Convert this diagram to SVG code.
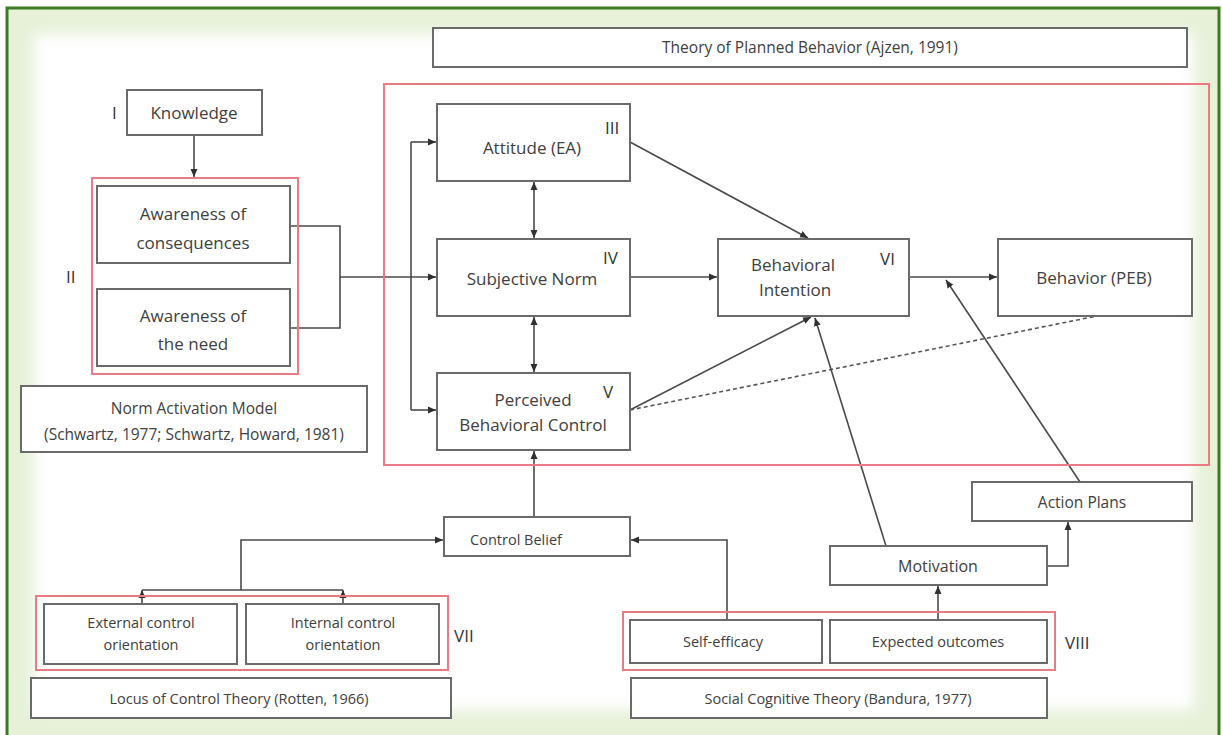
<svg xmlns="http://www.w3.org/2000/svg" width="1223" height="735" viewBox="0 0 1223 735">
<defs>
<filter id="soft" x="-5%" y="-5%" width="110%" height="110%"><feGaussianBlur stdDeviation="7"/></filter>
<marker id="ah" markerUnits="userSpaceOnUse" markerWidth="9" markerHeight="8" refX="8" refY="4" orient="auto-start-reverse" viewBox="0 0 9 8"><path d="M0,0.5 L8,4 L0,7.5 z" fill="#303030"/></marker>
<style>
.box{fill:#fff;stroke:#6a6a6a;stroke-width:2}
.grp{fill:none;stroke:#ec7a85;stroke-width:2}
.t{font-family:"Open Sans","Liberation Sans",sans-serif;fill:#404040;text-anchor:middle}
.l17{font-size:17px}
.l16{font-size:16px}
.l15{font-size:15.5px}
.l14{font-size:14.5px}
.rn{font-family:"Open Sans","Liberation Sans",sans-serif;fill:#333;font-size:17px}
.c{fill:none;stroke:#4a4a4a;stroke-width:1.6}
.ca{fill:none;stroke:#4a4a4a;stroke-width:1.6;marker-end:url(#ah)}
</style>
</defs>
<g id="background">
<rect x="7" y="8" width="1212" height="740" fill="#e6f1d8" stroke="#3d7a22" stroke-width="3"/>
<rect x="34" y="34" width="1160" height="676" fill="#ffffff" filter="url(#soft)"/>
</g>
<g id="connectors">
<path class="ca" d="M194,135 V177"/>
<path class="c" d="M290,226 H340 V328 H290"/>
<path class="ca" d="M340,277 H436"/>
<path class="c" d="M411,142 V410"/>
<path class="ca" d="M411,142 H436"/>
<path class="ca" d="M411,410 H436"/>
<path class="ca" d="M534,182 V238" style="marker-start:url(#ah)"/>
<path class="ca" d="M534,317 V372" style="marker-start:url(#ah)"/>
<path class="ca" d="M630,142 L808,238"/>
<path class="ca" d="M630,277 H717"/>
<path class="ca" d="M630,410 L811,317"/>
<path d="M630,410 L1097,316" fill="none" stroke="#555" stroke-width="1.6" stroke-dasharray="4,3"/>
<path class="ca" d="M909,277 H997"/>
<path class="ca" d="M1080,482 L946,280"/>
<path class="ca" d="M886,546 L815,318"/>
<path class="ca" d="M1047,566 H1068 V522"/>
<path class="ca" d="M938,620 V586"/>
<path class="ca" d="M727,620 V540 H631"/>
<path class="ca" d="M534,517 V451"/>
<path class="c" d="M142,590 H343"/>
<path class="ca" d="M142,604 V590"/>
<path class="ca" d="M343,604 V590"/>
<path class="ca" d="M241,590 V540 H443"/>
</g>
<g id="tpb-title"><rect class="box" x="433" y="28" width="754" height="39"/><text class="t l15" x="810" y="53">Theory of Planned Behavior (Ajzen, 1991)</text></g>
<g id="tpb-group"><rect class="grp" x="384" y="84" width="825" height="381"/></g>
<g id="knowledge"><rect class="box" x="127" y="90" width="135" height="45"/><text class="t l17" x="194" y="119">Knowledge</text><text class="rn" x="112" y="119">I</text></g>
<g id="nam-group"><rect class="grp" x="92" y="178" width="206" height="196"/><text class="rn" x="66" y="283">II</text></g>
<g id="aware-conseq"><rect class="box" x="97" y="186" width="193" height="77"/><text class="t l17" x="193" y="220">Awareness of</text><text class="t l17" x="193" y="249">consequences</text></g>
<g id="aware-need"><rect class="box" x="97" y="289" width="193" height="77"/><text class="t l17" x="193" y="322">Awareness of</text><text class="t l17" x="193" y="350">the need</text></g>
<g id="nam-title"><rect class="box" x="21" y="386" width="346" height="66"/><text class="t l15" x="194" y="414">Norm Activation Model</text><text class="t l15" x="194" y="440">(Schwartz, 1977; Schwartz, Howard, 1981)</text></g>
<g id="attitude"><rect class="box" x="437" y="104" width="193" height="77"/><text class="t l17" x="532" y="154">Attitude (EA)</text><text class="rn" x="605" y="134">III</text></g>
<g id="subjective-norm"><rect class="box" x="437" y="239" width="193" height="77"/><text class="t l17" x="532" y="285">Subjective Norm</text><text class="rn" x="603" y="264">IV</text></g>
<g id="pbc"><rect class="box" x="437" y="373" width="193" height="77"/><text class="t l17" x="533" y="406">Perceived</text><text class="t l17" x="533" y="431">Behavioral Control</text><text class="rn" x="603" y="398">V</text></g>
<g id="intention"><rect class="box" x="718" y="239" width="191" height="77"/><text class="t l17" x="793" y="271">Behavioral</text><text class="t l17" x="795" y="296">Intention</text><text class="rn" x="880" y="265">VI</text></g>
<g id="behavior"><rect class="box" x="998" y="239" width="194" height="77"/><text class="t l17" x="1094" y="284">Behavior (PEB)</text></g>
<g id="action-plans"><rect class="box" x="972" y="482" width="220" height="39"/><text class="t l15" x="1082" y="508">Action Plans</text></g>
<g id="motivation"><rect class="box" x="830" y="546" width="217" height="39"/><text class="t l16" x="938" y="572">Motivation</text></g>
<g id="control-belief"><rect class="box" x="444" y="517" width="186" height="39"/><text class="t l14" x="516" y="545">Control Belief</text></g>
<g id="loc-group"><rect class="grp" x="36" y="596" width="412" height="74"/><text class="rn" x="454" y="642">VII</text></g>
<g id="external"><rect class="box" x="44" y="604" width="193" height="60"/><text class="t l14" x="141" y="628">External control</text><text class="t l14" x="141" y="650">orientation</text></g>
<g id="internal"><rect class="box" x="246" y="604" width="193" height="60"/><text class="t l14" x="343" y="628">Internal control</text><text class="t l14" x="343" y="650">orientation</text></g>
<g id="loc-title"><rect class="box" x="31" y="678" width="420" height="40"/><text class="t l14" x="239" y="704">Locus of Control Theory (Rotten, 1966)</text></g>
<g id="sct-group"><rect class="grp" x="623" y="612" width="432" height="58"/><text class="rn" x="1065" y="649">VIII</text></g>
<g id="self-efficacy"><rect class="box" x="630" y="620" width="192" height="43"/><text class="t l14" x="723" y="647">Self-efficacy</text></g>
<g id="expected"><rect class="box" x="830" y="620" width="217" height="43"/><text class="t l14" x="938" y="647">Expected outcomes</text></g>
<g id="sct-title"><rect class="box" x="631" y="678" width="416" height="40"/><text class="t l14" x="838" y="704">Social Cognitive Theory (Bandura, 1977)</text></g>
</svg>
